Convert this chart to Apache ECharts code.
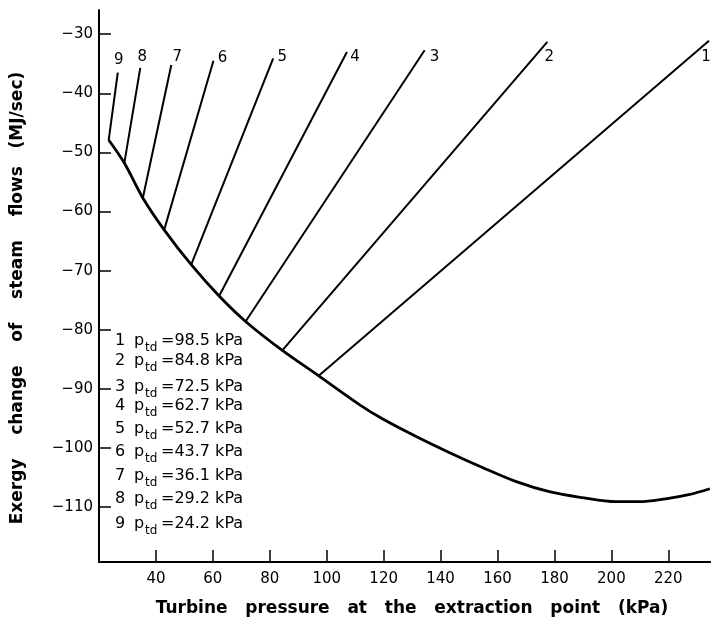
<!DOCTYPE html>
<html>
<head>
<meta charset="utf-8">
<script src="https://cdn.jsdelivr.net/npm/echarts@6/dist/echarts.min.js"></script>
<style>
html,body{margin:0;padding:0;background:#fff;}
#chart{width:711px;height:623px;}
</style>
</head>
<body>
<div id="chart"></div>
<script>
// ---- data ----
const xTicks = [40, 60, 80, 100, 120, 140, 160, 180, 200, 220];
const yTicks = [-110, -100, -90, -80, -70, -60, -50, -40, -30];

// envelope curve (turbine pressure kPa, exergy change MJ/sec)
const envelopeX = [23.4, 28.9, 35.4, 42.9, 52.4, 62.2, 71.5, 84.4, 97.2, 111.6, 119.7, 131.6, 143.2, 154.7, 166.6, 178.2, 189.7, 201.6, 209.7, 219.1, 227.2, 234.6];
const envelopeY = [-47.9, -51.8, -57.7, -63.1, -69.0, -74.3, -78.6, -83.5, -87.8, -92.7, -95.1, -98.1, -100.8, -103.3, -105.7, -107.4, -108.4, -109.1, -109.1, -108.6, -107.9, -106.9];

// individual p_td lines (bottom point on envelope -> top point)
const lineIds = ['1', '2', '3', '4', '5', '6', '7', '8', '9'];
const ptdValues = ['98.5', '84.8', '72.5', '62.7', '52.7', '43.7', '36.1', '29.2', '24.2'];
const lineX = [
  [97.2, 234.3],
  [84.4, 177.5],
  [71.5, 134.4],
  [62.2, 107.1],
  [52.4, 81.2],
  [42.9, 60.2],
  [35.4, 45.4],
  [28.9, 34.5],
  [23.4, 26.6]
];
const lineY = [
  [-87.8, -31.1],
  [-83.5, -31.3],
  [-78.6, -32.7],
  [-74.3, -33.0],
  [-69.0, -34.1],
  [-63.1, -34.5],
  [-57.7, -35.2],
  [-51.8, -35.7],
  [-47.9, -36.5]
];

// ---- styling / layout ----
const FONT = 'DejaVu Sans';
const labelOffsets = [[-3, 16], [2, 15], [10, 7], [8, 5], [9, -1], [9, -3], [6, -8], [2, -11], [1, -13]];
const legendRowsY = [341, 361, 387, 406, 429, 452, 476, 499, 524];

const zip = (xs, ys) => xs.map((x, i) => [x, ys[i]]);
const minus = v => String(v).replace('-', '\u2212');

const chart = echarts.init(document.getElementById('chart'), null, {renderer: 'canvas'});

const series = [{
  type: 'line',
  data: zip(envelopeX, envelopeY),
  smooth: 0.35,
  symbol: 'none',
  clip: true,
  lineStyle: {color: '#000', width: 2.8},
  z: 3
}];
lineIds.forEach((id, i) => {
  series.push({
    type: 'line',
    name: id,
    data: zip(lineX[i], lineY[i]),
    symbol: 'none',
    clip: true,
    lineStyle: {color: '#000', width: 2},
    z: 2
  });
});

chart.setOption({
  animation: false,
  backgroundColor: '#fff',
  grid: {left: 99, top: 10, right: 0, bottom: 61, containLabel: false},
  xAxis: {
    type: 'value',
    min: 20, max: 235,
    axisLine: {show: true, lineStyle: {color: '#000', width: 2}},
    axisTick: {show: true, inside: true, length: 12, customValues: xTicks, lineStyle: {color: '#000', width: 1.5}},
    axisLabel: {show: true, customValues: xTicks, margin: 10, color: '#000', fontFamily: FONT, fontSize: 15},
    splitLine: {show: false}
  },
  yAxis: {
    type: 'value',
    min: -119.3, max: -25.9,
    axisLine: {show: true, onZero: false, lineStyle: {color: '#000', width: 2}},
    axisTick: {show: true, inside: true, length: 12, customValues: yTicks, lineStyle: {color: '#000', width: 1.5}},
    axisLabel: {show: true, customValues: yTicks, margin: 6, color: '#000', fontFamily: FONT, fontSize: 15, formatter: minus},
    splitLine: {show: false}
  },
  series: series
});

// ---- text overlays ----
const graphics = [];
// line number labels at the top end of each line
lineIds.forEach((id, i) => {
  const n = lineX[i].length - 1;
  const p = chart.convertToPixel({gridIndex: 0}, [lineX[i][n], lineY[i][n]]);
  graphics.push({
    type: 'text',
    x: p[0] + labelOffsets[i][0],
    y: p[1] + labelOffsets[i][1],
    style: {text: id, fill: '#000', font: '15px "' + FONT + '"', textAlign: 'center', textVerticalAlign: 'middle'},
    z: 10
  });
});
// legend block
lineIds.forEach((id, i) => {
  const y = legendRowsY[i];
  graphics.push({type: 'text', x: 115, y: y, style: {text: id, fill: '#000', font: '16px "' + FONT + '"', textAlign: 'left', textVerticalAlign: 'middle'}, z: 10});
  graphics.push({type: 'text', x: 134, y: y, style: {text: 'p', fill: '#000', font: '16px "' + FONT + '"', textAlign: 'left', textVerticalAlign: 'middle'}, z: 10});
  graphics.push({type: 'text', x: 145, y: y + 7, style: {text: 'td', fill: '#000', font: '12px "' + FONT + '"', textAlign: 'left', textVerticalAlign: 'middle'}, z: 10});
  graphics.push({type: 'text', x: 161, y: y, style: {text: '=' + ptdValues[i] + ' kPa', fill: '#000', font: '16px "' + FONT + '"', textAlign: 'left', textVerticalAlign: 'middle'}, z: 10});
});
// axis titles
graphics.push({
  type: 'text', x: 412, y: 609,
  style: {text: 'Turbine   pressure   at   the   extraction   point   (kPa)', fill: '#000', font: 'bold 17px "' + FONT + '"', textAlign: 'center', textVerticalAlign: 'middle'},
  z: 10
});
graphics.push({
  type: 'text', x: 18, y: 298, rotation: Math.PI / 2,
  style: {text: 'Exergy    change    of    steam    flows   (MJ/sec)', fill: '#000', font: 'bold 17px "' + FONT + '"', textAlign: 'center', textVerticalAlign: 'middle'},
  z: 10
});
chart.setOption({graphic: graphics});
</script>
</body>
</html>
